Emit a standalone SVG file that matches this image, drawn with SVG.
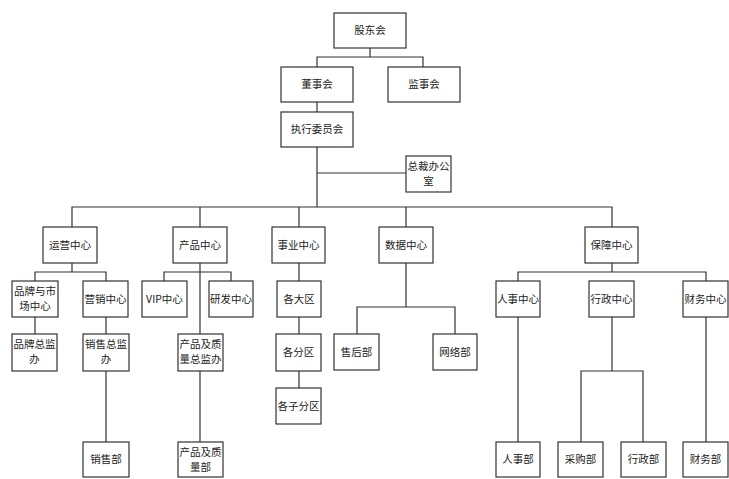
<svg xmlns="http://www.w3.org/2000/svg" width="729" height="479" viewBox="0 0 729 479">
<style>
.b{fill:#fff;stroke:#333;stroke-width:1.2}
.t{font-family:"Noto Sans CJK SC","Liberation Sans",sans-serif;font-size:10.5px;fill:#222;text-anchor:middle}
.c{fill:none;stroke:#333;stroke-width:1.2}
</style>
<rect width="729" height="479" fill="#fff"/>
<g id="connectors">
<path class="c" d="M370 48V57M317 67V57H423V67"/>
<path class="c" d="M317 102V112"/>
<path class="c" d="M317 147V207M317 173H406"/>
<path class="c" d="M72 227V207H612V227M200 207V227M299 207V227M406 207V227"/>
<path class="c" d="M72 263V272M35 281V272H106V281"/>
<path class="c" d="M35 317V334M106 317V334M106 371V442"/>
<path class="c" d="M200 263V334M164 281V272H231V281M200 371V442"/>
<path class="c" d="M299 263V281M299 317V334M299 371V388"/>
<path class="c" d="M406 263V307M357 334V307H455V334"/>
<path class="c" d="M612 263V272M518 281V272H706V281"/>
<path class="c" d="M518 317V442M706 317V442M612 317V371M581 442V371H643V442"/>
</g>
<g id="n-gudonghui"><rect class="b" x="334" y="13" width="72" height="35"/><text class="t" x="370" y="34">股东会</text></g>
<g id="n-dongshihui"><rect class="b" x="281" y="67" width="72" height="35"/><text class="t" x="317" y="88">董事会</text></g>
<g id="n-jianshihui"><rect class="b" x="388" y="67" width="72" height="35"/><text class="t" x="424" y="88">监事会</text></g>
<g id="n-zhixing"><rect class="b" x="281" y="112" width="72" height="35"/><text class="t" x="317" y="133">执行委员会</text></g>
<g id="n-zongcai"><rect class="b" x="406" y="156" width="45" height="36"/><text class="t" x="428.5" y="170">总裁办公</text><text class="t" x="428.5" y="185">室</text></g>
<g id="n-yunying"><rect class="b" x="43" y="227" width="54" height="36"/><text class="t" x="70" y="249">运营中心</text></g>
<g id="n-chanpin"><rect class="b" x="173" y="227" width="54" height="36"/><text class="t" x="200" y="249">产品中心</text></g>
<g id="n-shiye"><rect class="b" x="272" y="227" width="53" height="36"/><text class="t" x="298.5" y="249">事业中心</text></g>
<g id="n-shuju"><rect class="b" x="379" y="227" width="54" height="36"/><text class="t" x="406" y="249">数据中心</text></g>
<g id="n-baozhang"><rect class="b" x="585" y="227" width="53" height="36"/><text class="t" x="611.5" y="249">保障中心</text></g>
<g id="n-pinpai"><rect class="b" x="12" y="281" width="46" height="36"/><text class="t" x="35" y="295">品牌与市</text><text class="t" x="35" y="310">场中心</text></g>
<g id="n-yingxiao"><rect class="b" x="83" y="281" width="45" height="36"/><text class="t" x="105.5" y="303">营销中心</text></g>
<g id="n-vip"><rect class="b" x="142" y="281" width="45" height="36"/><text class="t" x="164.5" y="303">VIP中心</text></g>
<g id="n-yanfa"><rect class="b" x="209" y="281" width="44" height="36"/><text class="t" x="231" y="303">研发中心</text></g>
<g id="n-gedaqu"><rect class="b" x="277" y="281" width="44" height="36"/><text class="t" x="299" y="303">各大区</text></g>
<g id="n-renshi"><rect class="b" x="496" y="281" width="44" height="36"/><text class="t" x="518" y="303">人事中心</text></g>
<g id="n-xingzheng"><rect class="b" x="589" y="281" width="45" height="36"/><text class="t" x="611.5" y="303">行政中心</text></g>
<g id="n-caiwu"><rect class="b" x="683" y="281" width="45" height="36"/><text class="t" x="705.5" y="303">财务中心</text></g>
<g id="n-pinpaizongjian"><rect class="b" x="12" y="334" width="45" height="37"/><text class="t" x="34.5" y="348">品牌总监</text><text class="t" x="34.5" y="363">办</text></g>
<g id="n-xiaoshouzongjian"><rect class="b" x="83" y="334" width="46" height="37"/><text class="t" x="106" y="348">销售总监</text><text class="t" x="106" y="363">办</text></g>
<g id="n-chanpinzongjian"><rect class="b" x="178" y="334" width="45" height="37"/><text class="t" x="200.5" y="348">产品及质</text><text class="t" x="200.5" y="363">量总监办</text></g>
<g id="n-gefenqu"><rect class="b" x="276" y="334" width="45" height="37"/><text class="t" x="298.5" y="356">各分区</text></g>
<g id="n-shouhou"><rect class="b" x="334" y="334" width="45" height="36"/><text class="t" x="356.5" y="356">售后部</text></g>
<g id="n-wangluo"><rect class="b" x="433" y="334" width="44" height="36"/><text class="t" x="455" y="356">网络部</text></g>
<g id="n-gezifenqu"><rect class="b" x="276" y="388" width="45" height="36"/><text class="t" x="298.5" y="410">各子分区</text></g>
<g id="n-xiaoshou"><rect class="b" x="83" y="442" width="46" height="35"/><text class="t" x="106" y="463">销售部</text></g>
<g id="n-chanpinzhiliang"><rect class="b" x="178" y="442" width="45" height="35"/><text class="t" x="200.5" y="456">产品及质</text><text class="t" x="200.5" y="471">量部</text></g>
<g id="n-renshibu"><rect class="b" x="496" y="442" width="44" height="35"/><text class="t" x="518" y="463">人事部</text></g>
<g id="n-caigou"><rect class="b" x="558" y="442" width="45" height="35"/><text class="t" x="580.5" y="463">采购部</text></g>
<g id="n-xingzhengbu"><rect class="b" x="621" y="442" width="45" height="35"/><text class="t" x="643.5" y="463">行政部</text></g>
<g id="n-caiwubu"><rect class="b" x="683" y="442" width="45" height="35"/><text class="t" x="705.5" y="463">财务部</text></g>
</svg>
